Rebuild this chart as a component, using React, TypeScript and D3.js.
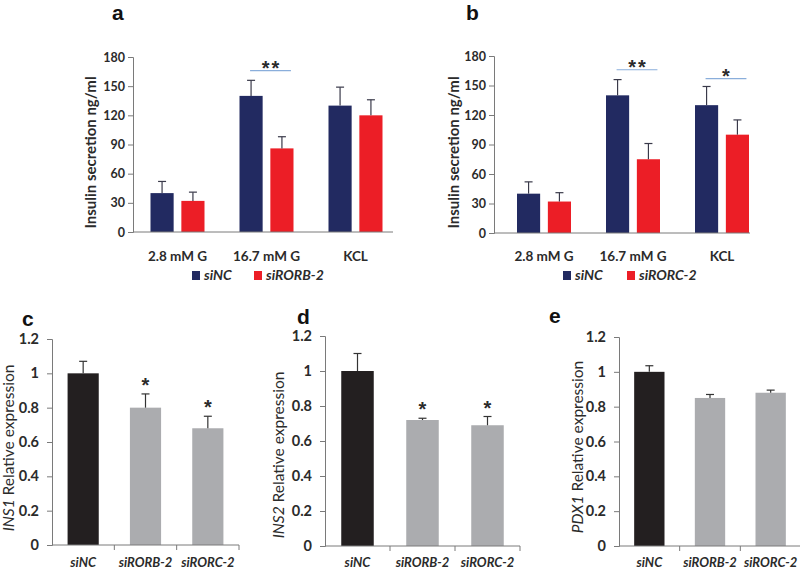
import React, { useEffect, useRef } from "react";
import * as d3 from "d3";

// panels a, b: insulin secretion
const glucoseConditions = ["2.8 mM G", "16.7 mM G", "KCL"];
const seriesA = ["siNC", "siRORB-2"];
const seriesB = ["siNC", "siRORC-2"];
const secretionA_siNC = [40, 140, 130];
const secretionA_siNC_err = [12, 16, 19];
const secretionA_siRORB = [32, 86, 120];
const secretionA_siRORB_err = [9, 12, 16];
const secretionB_siNC = [40, 140, 130];
const secretionB_siNC_err = [12, 16, 19];
const secretionB_siRORC = [32, 75, 100];
const secretionB_siRORC_err = [9, 16, 15];
const secretionTicks = [0, 30, 60, 90, 120, 150, 180];
const sigA = [{ group: "16.7 mM G", label: "**", level: 166 }];
const sigB = [
  { group: "16.7 mM G", label: "**", level: 166 },
  { group: "KCL", label: "*", level: 157 },
];

// panels c, d, e: relative expression
const knockdowns = ["siNC", "siRORB-2", "siRORC-2"];
const ins1Expr = [1.0, 0.8, 0.68];
const ins1Err = [0.07, 0.08, 0.07];
const ins2Expr = [1.0, 0.72, 0.69];
const ins2Err = [0.1, 0.01, 0.05];
const pdx1Expr = [1.0, 0.85, 0.88];
const pdx1Err = [0.035, 0.02, 0.015];
const expressionTicks = [0, 0.2, 0.4, 0.6, 0.8, 1, 1.2];
const starsC = ["siRORB-2", "siRORC-2"];
const starsD = ["siRORB-2", "siRORC-2"];
const starsE: string[] = [];

const NAVY = "#222a61";
const RED = "#ec1e26";
const BLACK = "#231f20";
const GREY = "#abacaf";
const AXIS = "#7a7a7a";
const TEXT = "#2b2b2b";
const FONT = "Lato, 'Open Sans', sans-serif";
const STAR_FONT = "'Liberation Sans', Arial, sans-serif";

function yAxis(g, y, ticks, x, size, pad) {
  const ax = g.append("g")
    .attr("transform", `translate(${x},0)`)
    .call(d3.axisLeft(y).tickValues(ticks).tickSize(5).tickPadding(pad).tickFormat(d3.format("")));
  ax.select(".domain").attr("stroke", AXIS);
  ax.selectAll(".tick line").attr("stroke", AXIS);
  ax.selectAll(".tick text")
    .attr("fill", TEXT)
    .style("font-family", FONT)
    .style("font-weight", "bold")
    .style("font-size", `${size}px`);
}

function errorBar(g, x, y0, y1, color = "#333") {
  g.append("line").attr("x1", x).attr("x2", x).attr("y1", y0).attr("y2", y1)
    .attr("stroke", color).attr("stroke-width", 1.2);
  g.append("line").attr("x1", x - 4).attr("x2", x + 4).attr("y1", y1).attr("y2", y1)
    .attr("stroke", color).attr("stroke-width", 1.2);
}

function drawSecretion(svg, cfg) {
  const g = svg.append("g");
  const y = d3.scaleLinear().domain([0, 180]).range([cfg.bottom, cfg.top]);
  const x0 = d3.scaleBand().domain(glucoseConditions).range(cfg.band);
  const x1 = d3.scaleBand().domain(cfg.series).range([-27, 27]).paddingInner(0.25);
  const colors = [NAVY, RED];

  cfg.series.forEach((s, si) => {
    const vals = cfg.values[si];
    const errs = cfg.errors[si];
    glucoseConditions.forEach((c, ci) => {
      const cx = x0(c) + x0.bandwidth() / 2 + x1(s);
      g.append("rect")
        .attr("x", cx).attr("y", y(vals[ci]))
        .attr("width", x1.bandwidth()).attr("height", y(0) - y(vals[ci]))
        .attr("fill", colors[si]);
      errorBar(g, cx + x1.bandwidth() / 2, y(vals[ci]), y(vals[ci] + errs[ci]), "#3a3a4a");
    });
  });

  yAxis(g, y, secretionTicks, cfg.axisX, 12.5, 3);
  g.append("line").attr("x1", cfg.axisX).attr("x2", cfg.axisEnd)
    .attr("y1", y(0)).attr("y2", y(0)).attr("stroke", AXIS);

  glucoseConditions.forEach((c) => {
    g.append("text")
      .attr("x", x0(c) + x0.bandwidth() / 2).attr("y", 261)
      .attr("text-anchor", "middle")
      .style("font-family", FONT).style("font-weight", "bold").style("font-size", "13.5px")
      .attr("fill", TEXT).text(c);
  });

  cfg.sig.forEach((s) => {
    const c = x0(s.group) + x0.bandwidth() / 2;
    const xa = c + x1(cfg.series[0]) + x1.bandwidth() / 2 - 1;
    const xb = c + x1(cfg.series[1]) + x1.bandwidth() / 2 + 9;
    g.append("line").attr("x1", xa).attr("x2", xb).attr("y1", y(s.level)).attr("y2", y(s.level))
      .attr("stroke", "#8aaedb").attr("stroke-width", 1.2);
    g.append("text")
      .attr("x", (xa + xb) / 2 + 1).attr("y", y(s.level) + 4)
      .attr("text-anchor", "middle")
      .style("font-family", STAR_FONT).style("font-weight", "bold").style("font-size", "20px")
      .style("letter-spacing", "2px")
      .attr("fill", TEXT).text(s.label);
  });

  // y label
  g.append("text")
    .attr("transform", `translate(${cfg.labelX},${(cfg.top + cfg.bottom) / 2 + 8}) rotate(-90)`)
    .attr("text-anchor", "middle")
    .style("font-family", FONT).style("font-weight", "bold").style("font-size", "15px")
    .attr("fill", TEXT).text("Insulin secretion ng/ml");

  // legend
  cfg.series.forEach((s, si) => {
    const lx = cfg.legendX[si];
    g.append("rect").attr("x", lx).attr("y", 271).attr("width", 8).attr("height", 9).attr("fill", colors[si]);
    g.append("text").attr("x", lx + 12).attr("y", 280)
      .style("font-family", FONT).style("font-weight", "bold").style("font-style", "italic")
      .style("font-size", "14px").attr("fill", TEXT).text(s);
  });

  svg.append("text").attr("x", cfg.letterX).attr("y", 20)
    .style("font-family", STAR_FONT).style("font-weight", "bold")
    .style("font-size", "21px").attr("fill", "#111").text(cfg.letter);
}

function drawExpression(svg, cfg) {
  const g = svg.append("g");
  const y = d3.scaleLinear().domain([0, 1.2]).range([cfg.bottom, cfg.top]);
  const x = d3.scaleBand().domain(knockdowns).range(cfg.band).paddingInner(0).paddingOuter(0);
  const bw = x.bandwidth() * 0.5;

  knockdowns.forEach((k, i) => {
    const cx = x(k) + x.bandwidth() / 2;
    g.append("rect")
      .attr("x", cx - bw / 2).attr("y", y(cfg.values[i]))
      .attr("width", bw).attr("height", y(0) - y(cfg.values[i]))
      .attr("fill", i === 0 ? BLACK : GREY);
    errorBar(g, cx, y(cfg.values[i]), y(cfg.values[i] + cfg.errors[i]));
    if (cfg.stars.includes(k)) {
      g.append("text")
        .attr("x", cx).attr("y", y(cfg.values[i] + cfg.errors[i]) - 2)
        .attr("text-anchor", "middle")
        .style("font-family", STAR_FONT).style("font-weight", "bold").style("font-size", "20px")
        .attr("fill", TEXT).text("*");
    }
    g.append("text")
      .attr("x", cx).attr("y", 567)
      .attr("text-anchor", "middle")
      .style("font-family", FONT).style("font-weight", "bold").style("font-style", "italic")
      .style("font-size", "13px").attr("fill", TEXT).text(k);
  });

  yAxis(g, y, expressionTicks, cfg.band[0], 14.5, 8);
  g.append("line").attr("x1", cfg.band[0]).attr("x2", cfg.band[1])
    .attr("y1", y(0)).attr("y2", y(0)).attr("stroke", AXIS);
  knockdowns.forEach((k) => {
    const tx = x(k) + x.step();
    g.append("line").attr("x1", tx).attr("x2", tx).attr("y1", y(0)).attr("y2", y(0) + 5).attr("stroke", AXIS);
  });

  const lab = g.append("text")
    .attr("transform", `translate(${cfg.labelX},${cfg.labelY}) rotate(-90)`)
    .attr("text-anchor", "middle")
    .style("font-family", FONT).style("font-size", "15.5px").attr("fill", TEXT);
  lab.append("tspan").style("font-style", "italic").text(cfg.gene);
  lab.append("tspan").text(" Relative expression");

  svg.append("text").attr("x", cfg.letterX).attr("y", cfg.letterY)
    .style("font-family", STAR_FONT).style("font-weight", "bold")
    .style("font-size", "21px").attr("fill", "#111").text(cfg.letter);
}

export default function App() {
  const ref = useRef<SVGSVGElement>(null);

  useEffect(() => {
    const svg = d3.select(ref.current);
    svg.selectAll("*").remove();

    drawSecretion(svg, {
      letter: "a", letterX: 112, axisX: 133, axisEnd: 393, top: 57, bottom: 232,
      band: [133, 400], series: seriesA,
      values: [secretionA_siNC, secretionA_siRORB],
      errors: [secretionA_siNC_err, secretionA_siRORB_err],
      sig: sigA, labelX: 96, legendX: [192, 254],
    });
    drawSecretion(svg, {
      letter: "b", letterX: 466, axisX: 494, axisEnd: 750, top: 56, bottom: 233,
      band: [499.5, 766.5], series: seriesB,
      values: [secretionB_siNC, secretionB_siRORC],
      errors: [secretionB_siNC_err, secretionB_siRORC_err],
      sig: sigB, labelX: 459, legendX: [563, 627],
    });

    drawExpression(svg, {
      letter: "c", letterX: 22, letterY: 326, band: [52, 239], top: 339, bottom: 545,
      values: ins1Expr, errors: ins1Err, stars: starsC, gene: "INS1", labelX: 14, labelY: 448,
    });
    drawExpression(svg, {
      letter: "d", letterX: 297, letterY: 324, band: [325, 520], top: 336, bottom: 546,
      values: ins2Expr, errors: ins2Err, stars: starsD, gene: "INS2", labelX: 284, labelY: 455,
    });
    drawExpression(svg, {
      letter: "e", letterX: 549, letterY: 323, band: [619, 801], top: 337, bottom: 546,
      values: pdx1Expr, errors: pdx1Err, stars: starsE, gene: "PDX1", labelX: 583, labelY: 447,
    });
  }, []);

  return (
    <svg
      ref={ref}
      width={800}
      height={569}
      style={{ position: "absolute", left: 0, top: 0, background: "#fff" }}
    />
  );
}
